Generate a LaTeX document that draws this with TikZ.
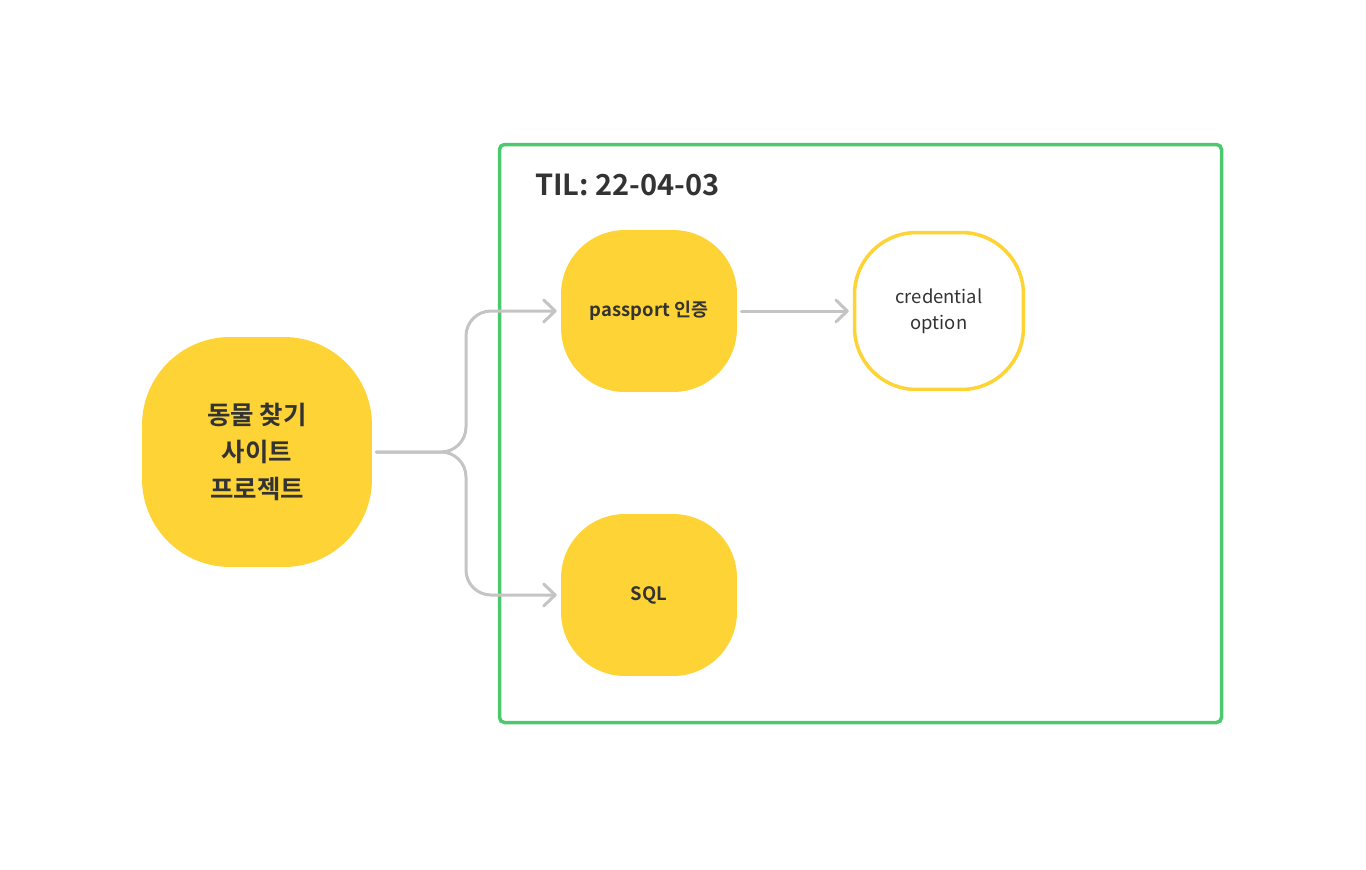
\documentclass[tikz,border=0pt]{standalone}
\usepackage{fontspec}
\setmainfont{Noto Sans CJK KR}[BoldFont={Noto Sans CJK KR Bold}]
\usetikzlibrary{arrows.meta}
\definecolor{boxyellow}{HTML}{FDD335}
\definecolor{inkgray}{HTML}{333333}
\definecolor{wiregray}{HTML}{C4C4C4}
\definecolor{framegreen}{HTML}{4CC96F}
\tikzset{
  bigbox/.style={fill=boxyellow, text=inkgray, align=center, inner sep=0pt,
    minimum width=4.6cm, minimum height=4.6cm, rounded corners=1.76cm,
    font=\bfseries\fontsize{14.5}{21}\selectfont},
  box/.style={fill=boxyellow, text=inkgray, align=center, inner sep=0pt,
    minimum width=3.52cm, minimum height=3.24cm, rounded corners=1.28cm,
    font=\bfseries\fontsize{10.5}{15}\selectfont},
  openbox/.style={draw=boxyellow, line width=0.07cm, fill=white, text=inkgray,
    align=center, inner sep=0pt, minimum width=3.38cm, minimum height=3.14cm,
    rounded corners=1.24cm, font=\fontsize{10.5}{14.7}\selectfont},
  wire/.style={draw=wiregray, line width=0.06cm, line cap=round,
    rounded corners=0.5cm, shorten <=0.08cm, shorten >=0.08cm,
    -{Straight Barb[length=6.5pt,width=12.5pt,round]}},
}
\begin{document}
\begin{tikzpicture}[x=0.02cm,y=-0.02cm]
\useasboundingbox (0,0) rectangle (1366,869);
% frame of the day
\draw[framegreen, line width=0.07cm, rounded corners=0.1cm] (499.5,144.5) rectangle (1221.5,722.5);
\node[anchor=west, text=inkgray, font=\bfseries\fontsize{16.5}{19}\selectfont] (title) at (529,185) {TIL: 22-04-03};
% boxes
\node[bigbox] (project) at (257,452) {동물 찾기\\사이트\\프로젝트};
\node[box] (passport) at (649,311) {passport 인증};
\node[box] (sql) at (649,595) {SQL};
\node[openbox] (credential) at (939,311) {credential\\option};
\coordinate (split) at (466,452);
% wires
\draw[wire] (project.east) -- (split) |- (passport.west);
\draw[wire] (project.east) -- (split) |- (sql.west);
\draw[wire] (passport.east) -- (credential.west);
\end{tikzpicture}
\end{document}
